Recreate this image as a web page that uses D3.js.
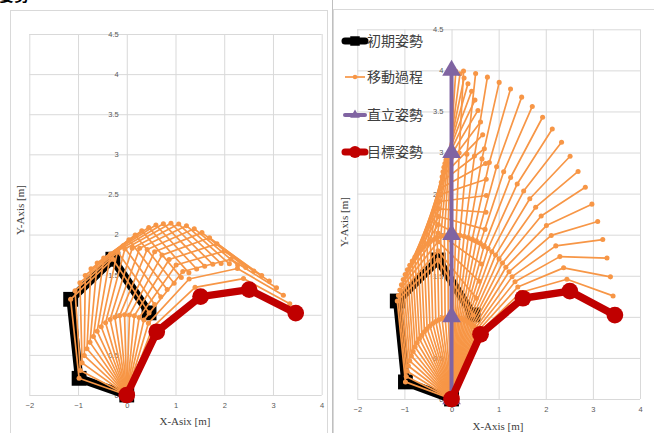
<!DOCTYPE html>
<html>
<head>
<meta charset="utf-8">
<script src="https://cdn.jsdelivr.net/npm/d3@7"></script>
<style>
body { margin:0; background:#fff; }
svg { display:block; font-family:"Liberation Sans", Arial, sans-serif; }
</style>
</head>
<body>
<svg id="chart" width="654" height="433"></svg>
<script>
// every arm link is 1 m long
var linkLength = 1;

// absolute link angles [deg] from base to tip
var initialPose = [168, 100, 30, -42];
var uprightPose = [90, 90, 90, 90];
var targetPose  = [52, 26, 5, -17];

// left chart: moving straight from initial to target posture
var leftPath = [
    [168, 100, 30, -42], [162.2, 96.3, 28.8, -40.8], [156.4, 92.6, 27.5, -39.5],
    [150.6, 88.9, 26.3, -38.3], [144.8, 85.2, 25, -37], [139, 81.5, 23.8, -35.8],
    [133.2, 77.8, 22.5, -34.5], [127.4, 74.1, 21.3, -33.3], [121.6, 70.4, 20, -32],
    [115.8, 66.7, 18.8, -30.8], [110, 63, 17.5, -29.5], [104.2, 59.3, 16.3, -28.3],
    [98.4, 55.6, 15, -27], [92.6, 51.9, 13.8, -25.8], [86.8, 48.2, 12.5, -24.5],
    [81, 44.5, 11.3, -23.3], [75.2, 40.8, 10, -22], [69.4, 37.1, 8.8, -20.8],
    [63.6, 33.4, 7.5, -19.5], [57.8, 29.7, 6.3, -18.3], [52, 26, 5, -17]
];

// right chart: initial -> upright -> target
var rightPath = [
    [168, 100, 30, -42], [164.1, 99.5, 33, -35.4], [160.2, 99, 36, -28.8],
    [156.3, 98.5, 39, -22.2], [152.4, 98, 42, -15.6], [148.5, 97.5, 45, -9],
    [144.6, 97, 48, -2.4], [140.7, 96.5, 51, 4.2], [136.8, 96, 54, 10.8],
    [132.9, 95.5, 57, 17.4], [129, 95, 60, 24], [125.1, 94.5, 63, 30.6],
    [121.2, 94, 66, 37.2], [117.3, 93.5, 69, 43.8], [113.4, 93, 72, 50.4],
    [109.5, 92.5, 75, 57], [105.6, 92, 78, 63.6], [101.7, 91.5, 81, 70.2],
    [97.8, 91, 84, 76.8], [93.9, 90.5, 87, 83.4], [90, 90, 90, 90],
    [88.1, 86.8, 85.8, 84.7], [86.2, 83.6, 81.5, 79.3], [84.3, 80.4, 77.3, 74],
    [82.4, 77.2, 73, 68.6], [80.5, 74, 68.8, 63.3], [78.6, 70.8, 64.5, 57.9],
    [76.7, 67.6, 60.3, 52.6], [74.8, 64.4, 56, 47.2], [72.9, 61.2, 51.8, 41.9],
    [71, 58, 47.5, 36.5], [69.1, 54.8, 43.3, 31.2], [67.2, 51.6, 39, 25.8],
    [65.3, 48.4, 34.8, 20.5], [63.4, 45.2, 30.5, 15.1], [61.5, 42, 26.3, 9.8],
    [59.6, 38.8, 22, 4.4], [57.7, 35.6, 17.8, -1], [55.8, 32.4, 13.5, -6.3],
    [53.9, 29.2, 9.3, -11.7], [52, 26, 5, -17]
];

var xTicks = [-2, -1, 0, 1, 2, 3, 4];
var yTicks = [0, 0.5, 1, 1.5, 2, 2.5, 3, 3.5, 4, 4.5];

var legendNames = ["初期姿勢", "移動過程", "直立姿勢", "目標姿勢"];

var colors = {init:"#000000", path:"#F79646", upright:"#8064A2", target:"#C00000"};

//angles -> joint points
var poseToPoints = function(angles)
{
    var pts = [{x:0, y:0}];
    var px = 0, py = 0;
    angles.forEach(function(a)
    {
        var r = a * Math.PI / 180;
        px = px + linkLength * Math.cos(r);
        py = py + linkLength * Math.sin(r);
        pts.push({x:px, y:py});
    });
    return pts;
};

var drawMarkers = function(g, pts, type, size, color, x, y)
{
    var sym = type == "square" ? d3.symbolSquare : (type == "triangle" ? d3.symbolTriangle : d3.symbolCircle);
    g.selectAll(null)
        .data(pts)
        .enter()
        .append("path")
        .attr("d", d3.symbol().type(sym).size(size))
        .attr("transform", function(p)
        {
            return "translate(" + x(p.x) + "," + y(p.y) + ")";
        })
        .attr("fill", color);
};

var drawPanel = function(svg, frame, poses, path)
{
    var x = d3.scaleLinear().domain([-2, 4]).range([frame.left, frame.right]);
    var y = d3.scaleLinear().domain([0, 4.5]).range([frame.bottom, frame.top]);

    var g = svg.append("g");

    //grid
    g.append("g")
        .attr("transform", "translate(0," + frame.bottom + ")")
        .call(d3.axisBottom(x).tickValues(xTicks).tickSize(-(frame.bottom - frame.top)).tickFormat(""))
        .call(function(s) { s.select(".domain").remove(); })
        .selectAll("line").attr("stroke", "#d9d9d9").attr("stroke-width", 1);
    g.append("g")
        .attr("transform", "translate(" + frame.left + ",0)")
        .call(d3.axisLeft(y).tickValues(yTicks).tickSize(-(frame.right - frame.left)).tickFormat(""))
        .call(function(s) { s.select(".domain").remove(); })
        .selectAll("line").attr("stroke", "#d9d9d9").attr("stroke-width", 1);

    //tick labels
    var xa = g.append("g")
        .attr("transform", "translate(0," + frame.bottom + ")")
        .call(d3.axisBottom(x).tickValues(xTicks).tickSize(0).tickPadding(frame.xPad).tickFormat(d3.format("~g")));
    xa.select(".domain").remove();
    xa.selectAll("text").attr("font-size", 7.5).attr("fill", "#595959").attr("font-family", "Liberation Sans");

    var ya = g.append("g")
        .attr("transform", "translate(" + x(0) + ",0)")
        .call(d3.axisLeft(y).tickValues(yTicks).tickSize(0).tickPadding(8).tickFormat(d3.format("~g")));
    ya.select(".domain").remove();
    ya.selectAll("text").attr("font-size", 7.5).attr("fill", "#595959").attr("font-family", "Liberation Sans");

    var line = d3.line()
        .x(function(p) { return x(p.x); })
        .y(function(p) { return y(p.y); });

    //initial posture
    var initPts = poseToPoints(initialPose);
    g.append("path").attr("d", line(initPts)).attr("fill", "none")
        .attr("stroke", colors.init).attr("stroke-width", 8.5).attr("stroke-linejoin", "round");
    drawMarkers(g, initPts, "square", 220, colors.init, x, y);

    //moving frames
    var framesG = g.append("g");
    var allPts = [];
    path.forEach(function(angles)
    {
        var pts = poseToPoints(angles);
        allPts = allPts.concat(pts);
        framesG.append("path").attr("d", line(pts)).attr("fill", "none")
            .attr("stroke", colors.path).attr("stroke-width", 1.7).attr("stroke-linejoin", "round");
    });
    drawMarkers(framesG, allPts, "circle", 20, colors.path, x, y);

    //upright
    if (poses.upright)
    {
        var upPts = poseToPoints(uprightPose);
        g.append("path").attr("d", line(upPts)).attr("fill", "none")
            .attr("stroke", colors.upright).attr("stroke-width", 4);
        drawMarkers(g, upPts, "triangle", 150, colors.upright, x, y);
    }

    //target
    var tgtPts = poseToPoints(targetPose);
    g.append("path").attr("d", line(tgtPts)).attr("fill", "none")
        .attr("stroke", colors.target).attr("stroke-width", 7.5).attr("stroke-linejoin", "round");
    drawMarkers(g, tgtPts, "circle", 220, colors.target, x, y);

    //axis titles
    g.append("text")
        .attr("x", frame.xTitle[0]).attr("y", frame.xTitle[1])
        .attr("text-anchor", "middle")
        .attr("font-family", "Liberation Serif")
        .attr("font-size", 11)
        .attr("fill", "#404040")
        .text(frame.xTitleText);
    g.append("text")
        .attr("transform", "translate(" + frame.yTitle[0] + "," + frame.yTitle[1] + ") rotate(-90)")
        .attr("text-anchor", "middle")
        .attr("font-family", "Liberation Serif")
        .attr("font-size", 11)
        .attr("fill", "#404040")
        .text("Y-Axis [m]");
};

var svg = d3.select("#chart");

//title above the charts, cut off by the page edge as in the original
svg.append("text").attr("x", -1).attr("y", 1)
    .attr("font-family", "Noto Sans CJK TC").attr("font-size", 15).attr("font-weight", "bold")
    .attr("fill", "#000").text("姿勢");

//chart boxes
svg.append("rect").attr("x", 10.5).attr("y", 10.5).attr("width", 317).attr("height", 440)
    .attr("fill", "none").attr("stroke", "#d9d9d9");
svg.append("rect").attr("x", 333.5).attr("y", 9.5).attr("width", 330).attr("height", 440)
    .attr("fill", "none").attr("stroke", "#d9d9d9");
svg.append("line").attr("x1", 332.5).attr("x2", 332.5).attr("y1", 0).attr("y2", 433)
    .attr("stroke", "#bfbfbf");

drawPanel(svg,
    {left:29.3, right:321.7, top:34, bottom:395, xPad:8, xTitle:[185, 425], xTitleText:"X-Asix [m]", yTitle:[24, 210]},
    {upright:false}, leftPath);

drawPanel(svg,
    {left:357.3, right:640, top:29.3, bottom:399, xPad:8, xTitle:[498, 430], xTitleText:"X-Axis [m]", yTitle:[348, 222]},
    {upright:true}, rightPath);

//legend
var legend = svg.append("g").attr("transform", "translate(343,0)");
var legendY = [41, 77, 115, 152];
legendNames.forEach(function(name, i)
{
    var row = legend.append("g").attr("transform", "translate(0," + legendY[i] + ")");
    var col = [colors.init, colors.path, colors.upright, colors.target][i];
    var w = [7, 1.7, 4, 7][i];
    row.append("line").attr("x1", 2).attr("x2", 22).attr("y1", 0).attr("y2", 0)
        .attr("stroke", col).attr("stroke-width", w).attr("stroke-linecap", i == 1 ? "butt" : "round");
    var sym = [d3.symbolSquare, d3.symbolCircle, d3.symbolTriangle, d3.symbolCircle][i];
    var sz = [90, 16, 40, 110][i];
    row.append("path").attr("d", d3.symbol().type(sym).size(sz)).attr("transform", "translate(12,0)").attr("fill", col);
    row.append("text").attr("x", 24).attr("y", 5)
        .attr("font-family", "Noto Sans CJK TC")
        .attr("font-size", 14)
        .attr("fill", "#404040")
        .text(name);
});
</script>
</body>
</html>
